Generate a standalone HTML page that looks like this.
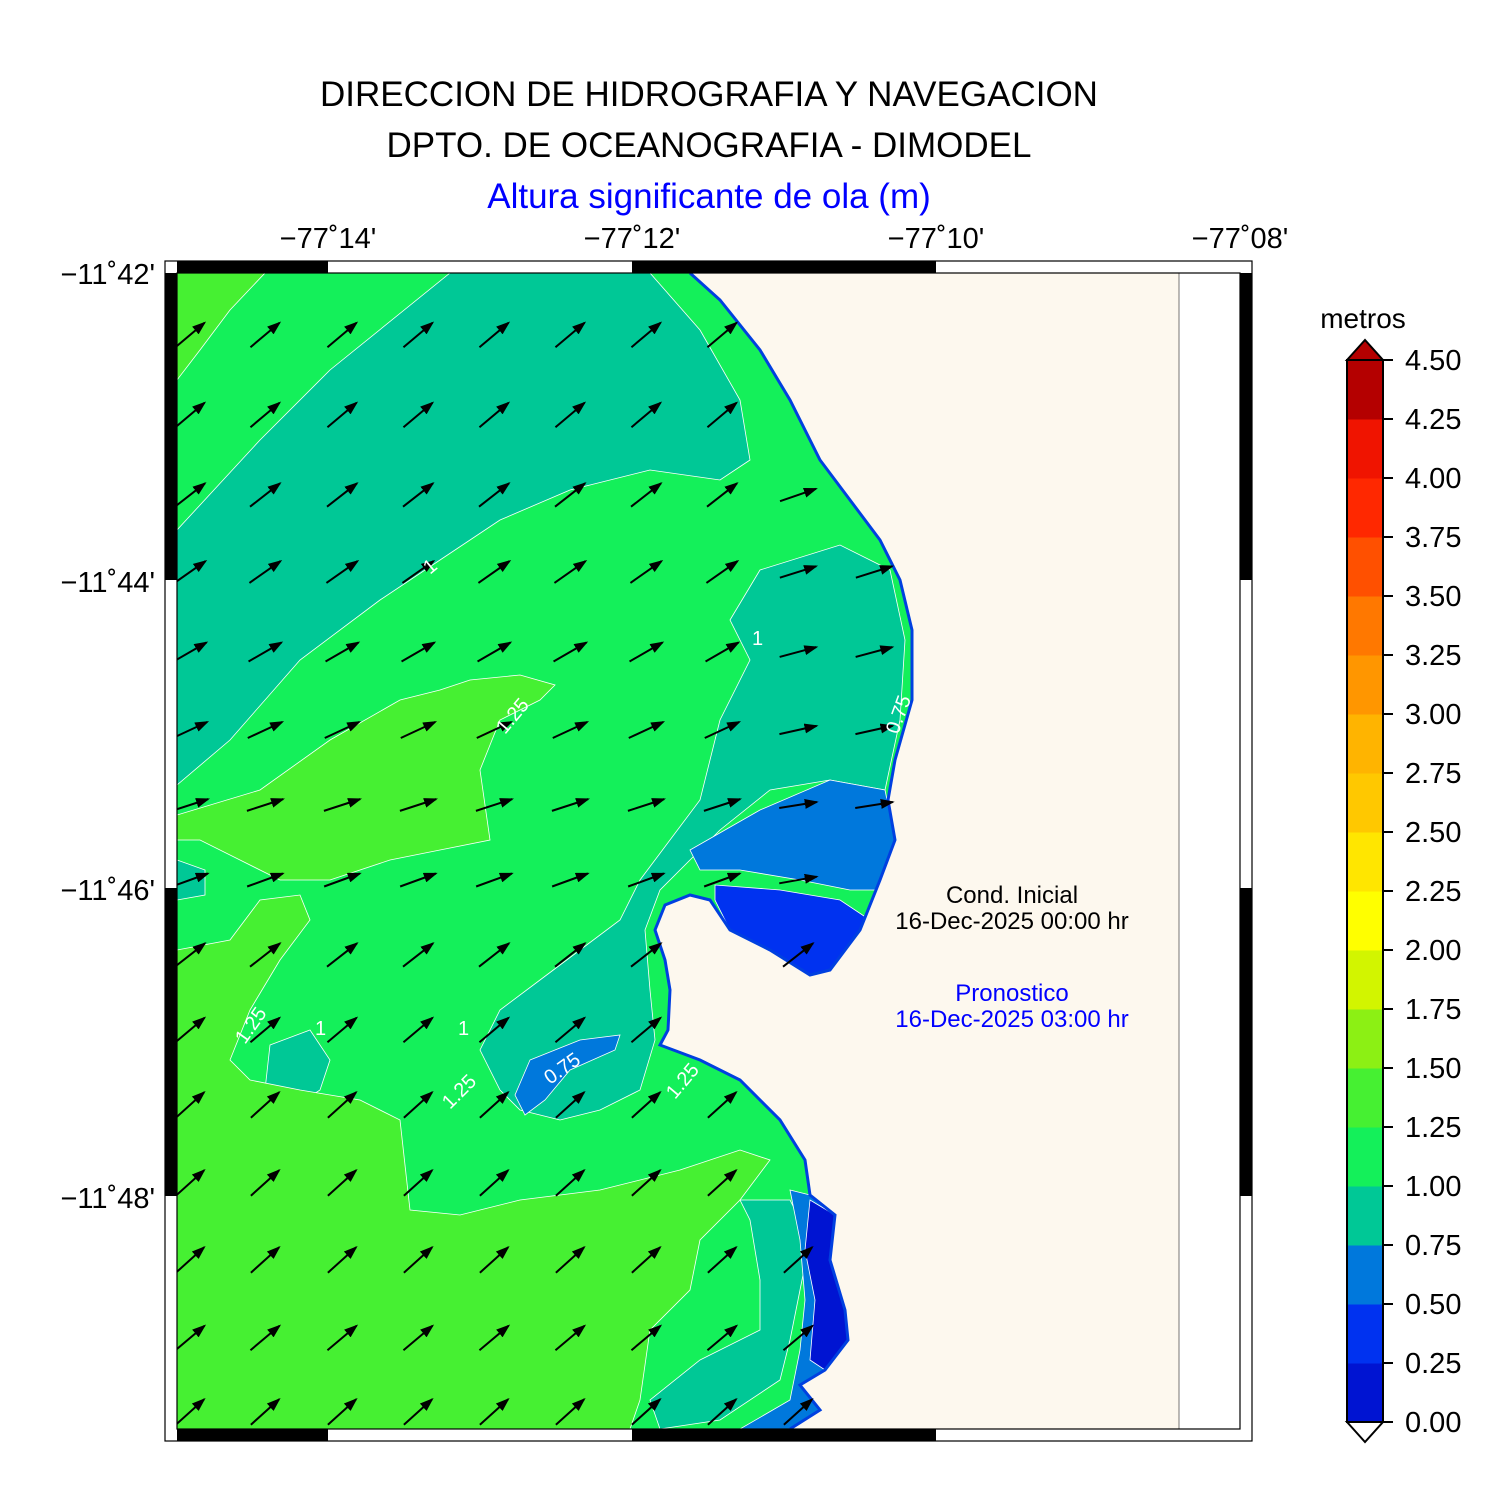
<!DOCTYPE html>
<html><head><meta charset="utf-8"><style>
body{margin:0;background:#fff;}
svg{display:block;font-family:"Liberation Sans",sans-serif;}
</style></head><body>
<svg id="s" width="1487" height="1500" viewBox="0 0 1487 1500" xmlns="http://www.w3.org/2000/svg">
<defs><marker id="ah" markerWidth="14" markerHeight="10" refX="12" refY="5" orient="auto" markerUnits="userSpaceOnUse"><path d="M0,0 L14,5 L0,10 Z" fill="#000"/></marker>
<clipPath id="cp"><rect x="177" y="273" width="1063" height="1156"/></clipPath></defs>
<text x="709" y="106" font-size="35" text-anchor="middle">DIRECCION DE HIDROGRAFIA Y NAVEGACION</text>
<text x="709" y="157" font-size="35" text-anchor="middle">DPTO. DE OCEANOGRAFIA - DIMODEL</text>
<text x="709" y="208" font-size="35" text-anchor="middle" fill="#0000ff">Altura significante de ola (m)</text>
<g clip-path="url(#cp)" stroke="#fff" stroke-width="0.8">
<rect x="177" y="273" width="1063" height="1156" fill="#14f05a" stroke="none"/>
<path fill="#46f032" d="M177,273 L265,273 L230,310 L200,350 L177,380Z"/>
<path fill="#00c896" d="M177,530 L260,440 L330,370 L450,273 L650,273 L700,330 L740,400 L750,460 L720,480 L650,470 L570,490 L500,520 L440,560 L380,600 L300,660 L230,740 L177,785Z"/>
<path fill="#00c896" d="M730,620 L760,570 L840,545 L890,570 L905,640 L900,720 L885,790 L830,780 L770,790 L720,830 L690,860 L660,890 L645,930 L650,990 L655,1040 L640,1090 L600,1110 L560,1120 L520,1110 L500,1090 L480,1050 L500,1010 L540,980 L580,950 L620,920 L640,880 L700,800 L720,720 L750,660 L740,640Z"/>
<path fill="#00c896" d="M177,860 L205,870 L205,895 L177,900Z"/>
<path fill="#00c896" d="M270,1045 L310,1030 L330,1060 L320,1090 L290,1110 L265,1090Z"/>
<path fill="#46f032" d="M177,815 L260,790 L330,740 L400,700 L440,690 L470,680 L520,675 L555,685 L540,700 L500,720 L480,770 L490,840 L440,850 L390,860 L330,880 L280,880 L240,860 L200,840 L177,840Z"/>
<path fill="#46f032" d="M177,950 L230,940 L260,900 L300,895 L310,920 L280,960 L250,1010 L230,1060 L250,1080 L300,1090 L360,1100 L400,1120 L410,1210 L460,1215 L520,1200 L600,1190 L680,1170 L740,1150 L770,1160 L740,1200 L700,1240 L690,1290 L650,1330 L640,1400 L630,1429 L177,1429Z"/>
<path fill="#00c896" d="M740,1200 L790,1200 L810,1240 L800,1290 L790,1340 L780,1380 L720,1420 L660,1429 L650,1400 L700,1360 L760,1330 L760,1280 L750,1220Z"/>
<path fill="#0078dc" d="M690,850 L760,810 L830,780 L885,790 L895,840 L880,890 L850,890 L800,880 L740,870 L700,870Z"/>
<path fill="#0032f0" d="M715,885 L780,890 L840,900 L870,920 L850,950 L830,970 L810,975 L770,950 L730,930 L715,900Z"/>
<path fill="#0078dc" d="M530,1060 L580,1040 L620,1035 L615,1050 L570,1070 L545,1100 L525,1115 L515,1095Z"/>
<path fill="#0078dc" d="M790,1190 L810,1195 L835,1215 L830,1260 L845,1310 L848,1340 L825,1370 L800,1385 L820,1410 L790,1429 L740,1429 L790,1400 L800,1350 L805,1300 L800,1240Z"/>
<path fill="#0014d2" d="M810,1200 L835,1215 L830,1260 L845,1310 L848,1340 L825,1370 L810,1360 L815,1300 L805,1250Z"/>
<path id="land" fill="#fdf8ee" stroke="none" d="M690,273 L720,300 L760,350 L790,400 L820,460 L850,500 L880,540 L900,580 L912,630 L912,700 L895,760 L888,800 L895,840 L880,880 L860,930 L830,970 L810,975 L770,950 L730,930 L710,900 L690,895 L665,905 L655,930 L665,960 L670,990 L668,1030 L660,1045 L700,1060 L740,1080 L780,1120 L805,1160 L810,1195 L835,1215 L830,1260 L845,1310 L848,1340 L825,1370 L800,1385 L820,1410 L790,1429 L1179,1429 L1179,273Z"/>
<path fill="none" stroke="#0040e0" stroke-width="3" d="M690,273 L720,300 L760,350 L790,400 L820,460 L850,500 L880,540 L900,580 L912,630 L912,700 L895,760 L888,800 L895,840 L880,880 L860,930 L830,970 L810,975 L770,950 L730,930 L710,900 L690,895 L665,905 L655,930 L665,960 L670,990 L668,1030 L660,1045 L700,1060 L740,1080 L780,1120 L805,1160 L810,1195 L835,1215 L830,1260 L845,1310 L848,1340 L825,1370 L800,1385 L820,1410 L790,1429"/>
<rect x="1179" y="273" width="61" height="1156" fill="#fff" stroke="#555" stroke-width="0.8"/>
<g id="arr" stroke="#000" stroke-width="2"></g>
</g>
<g font-size="20" fill="#fff">
<text x="430" y="575" transform="rotate(-40 430 575)">1</text>
<text x="505" y="735" transform="rotate(-50 505 735)">1.25</text>
<text x="752" y="645">1</text>
<text x="898" y="735" transform="rotate(-70 898 735)">0.75</text>
<text x="550" y="1085" transform="rotate(-35 550 1085)">0.75</text>
<text x="245" y="1045" transform="rotate(-55 245 1045)">1.25</text>
<text x="450" y="1110" transform="rotate(-45 450 1110)">1.25</text>
<text x="675" y="1100" transform="rotate(-50 675 1100)">1.25</text>
<text x="458" y="1035">1</text>
<text x="315" y="1035">1</text>
</g>
<rect x="165" y="261" width="1087" height="1180" fill="none" stroke="#000" stroke-width="1.2"/>
<rect x="177" y="273" width="1063" height="1156" fill="none" stroke="#000" stroke-width="1.2"/>
<g fill="#000">
<rect x="177" y="261" width="151" height="12"/><rect x="632" y="261" width="304" height="12"/>
<rect x="177" y="1429" width="151" height="12"/><rect x="632" y="1429" width="304" height="12"/>
<rect x="165" y="273" width="12" height="307"/><rect x="165" y="888" width="12" height="308"/>
<rect x="1240" y="273" width="12" height="307"/><rect x="1240" y="888" width="12" height="308"/>
</g>
<g font-size="29" text-anchor="middle">
<text x="328" y="248">−77˚14'</text><text x="632" y="248">−77˚12'</text><text x="936" y="248">−77˚10'</text><text x="1240" y="248">−77˚08'</text>
</g>
<g font-size="29" text-anchor="end">
<text x="155" y="284">−11˚42'</text><text x="155" y="592">−11˚44'</text><text x="155" y="900">−11˚46'</text><text x="155" y="1208">−11˚48'</text>
</g>
<g font-size="24" text-anchor="middle">
<text x="1012" y="903">Cond. Inicial</text><text x="1012" y="929">16-Dec-2025 00:00 hr</text>
<text x="1012" y="1001" fill="#0000ff">Pronostico</text><text x="1012" y="1027" fill="#0000ff">16-Dec-2025 03:00 hr</text>
</g>
<text x="1363" y="328" font-size="28" text-anchor="middle">metros</text>
<g id="cb"></g>
<path d="M1347,360 L1365,340 L1383,360Z" fill="#b40000" stroke="#000" stroke-width="2"/>
<path d="M1347,1422 L1365,1442 L1383,1422Z" fill="#fff" stroke="#000" stroke-width="2"/>
<rect x="1347" y="360" width="36" height="1062" fill="none" stroke="#000" stroke-width="2"/>
</svg>
<script>
var NS="http://www.w3.org/2000/svg";
var cols=["#0014d2","#0032f0","#0078dc","#00c896","#14f05a","#46f032","#8cf014","#d2f500","#ffff00","#ffe600","#ffc800","#ffb400","#ff9600","#ff7800","#ff5000","#ff2800","#f01400","#b40000"];
var cb=document.getElementById("cb"),h=1062/18;
for(var i=0;i<18;i++){var y=1422-(i+1)*h;var r=document.createElementNS(NS,"rect");r.setAttribute("x",1347);r.setAttribute("y",y);r.setAttribute("width",36);r.setAttribute("height",h+0.5);r.setAttribute("fill",cols[i]);cb.appendChild(r);}
for(var i=0;i<=18;i++){var y=1422-i*h;var l=document.createElementNS(NS,"line");l.setAttribute("x1",1383);l.setAttribute("x2",1393);l.setAttribute("y1",y);l.setAttribute("y2",y);l.setAttribute("stroke","#000");l.setAttribute("stroke-width","2");cb.appendChild(l);
var t=document.createElementNS(NS,"text");t.setAttribute("x",1405);t.setAttribute("y",y+10);t.setAttribute("font-size","29");t.textContent=(i*0.25).toFixed(2);cb.appendChild(t);}
var land=document.getElementById("land"),ag=document.getElementById("arr");
var xs=[190,265,342,418,494,570,646,722,798,874],ys=[335,415,495,572,652,730,805,880,955,1030,1105,1183,1260,1338,1412];
var ang={335:40,415:40,495:38,572:35,652:30,730:25,805:18,880:20,955:38,1030:40,1105:42,1183:42,1260:42,1338:40,1412:42};
ys.forEach(function(y){xs.forEach(function(x){
 var p=new DOMPoint(x+10,y-8);var inl=false;try{inl=land.isPointInFill(p);}catch(e){}
 if(inl)return;var a=ang[y]*Math.PI/180;if(x>=798&&y<900)a=a*0.5;var L=38;
 var l=document.createElementNS(NS,"line");l.setAttribute("x1",x-L/2*Math.cos(a));l.setAttribute("y1",y+L/2*Math.sin(a));l.setAttribute("x2",x+L/2*Math.cos(a));l.setAttribute("y2",y-L/2*Math.sin(a));l.setAttribute("marker-end","url(#ah)");ag.appendChild(l);});});
</script>
</body></html>
